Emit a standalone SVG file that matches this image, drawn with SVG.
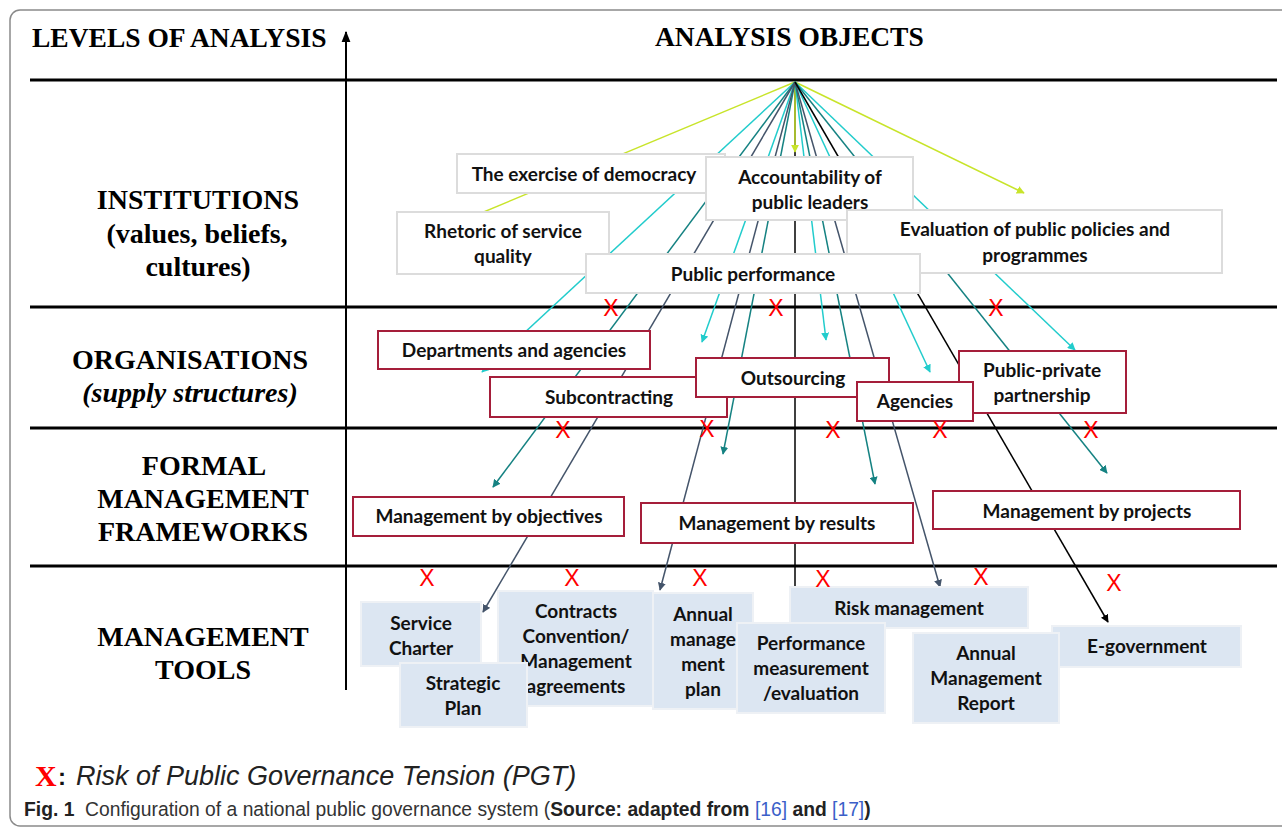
<svg xmlns="http://www.w3.org/2000/svg" width="1282" height="829" viewBox="0 0 1282 829">
<style>
.lvl{font-family:"Liberation Serif","Times New Roman",serif;font-weight:bold;font-size:28px;fill:#000;text-anchor:middle}
.hdr{font-family:"Liberation Serif","Times New Roman",serif;font-weight:bold;font-size:27.5px;fill:#000}
.hl{stroke:#000;stroke-width:3}
.nt{font-family:Lato,"Liberation Sans",sans-serif;font-weight:bold;font-size:19px;fill:#111;text-anchor:middle}
.inst{fill:#fff;stroke:#dcdcdc;stroke-width:2}
.org{fill:#fff;stroke:#a51e3a;stroke-width:2}
.tool{fill:#dce6f2;stroke:#eef1f5;stroke-width:2}
.x{font-family:"Liberation Sans",Arial,sans-serif;font-size:23px;fill:#ff0000;text-anchor:middle}
.cn{fill:none;stroke-width:1.5}
.y{stroke:#c8e42a}.c{stroke:#22cccc}.t{stroke:#158282}.s{stroke:#44546a}.k{stroke:#000}
</style>
<defs>
<marker id="ay" viewBox="0 0 10 10" refX="9" refY="5" markerWidth="8" markerHeight="8" markerUnits="userSpaceOnUse" orient="auto"><path d="M0,0 L10,5 L0,10 z" fill="#c8e42a"/></marker>
<marker id="ac" viewBox="0 0 10 10" refX="9" refY="5" markerWidth="8" markerHeight="8" markerUnits="userSpaceOnUse" orient="auto"><path d="M0,0 L10,5 L0,10 z" fill="#22cccc"/></marker>
<marker id="at" viewBox="0 0 10 10" refX="9" refY="5" markerWidth="8" markerHeight="8" markerUnits="userSpaceOnUse" orient="auto"><path d="M0,0 L10,5 L0,10 z" fill="#158282"/></marker>
<marker id="as" viewBox="0 0 10 10" refX="9" refY="5" markerWidth="8" markerHeight="8" markerUnits="userSpaceOnUse" orient="auto"><path d="M0,0 L10,5 L0,10 z" fill="#44546a"/></marker>
<marker id="ak" viewBox="0 0 10 10" refX="9" refY="5" markerWidth="8" markerHeight="8" markerUnits="userSpaceOnUse" orient="auto"><path d="M0,0 L10,5 L0,10 z" fill="#000"/></marker>
<marker id="axis" viewBox="0 0 10 10" refX="9" refY="5" markerWidth="11" markerHeight="11" markerUnits="userSpaceOnUse" orient="auto"><path d="M0,1 L10,5 L0,9 z" fill="#000"/></marker>
</defs>
<rect x="0" y="0" width="1282" height="829" fill="#fff"/>
<rect x="10" y="10" width="1300" height="816" rx="10" fill="none" stroke="#8a8a8a" stroke-width="1.5"/>

<g id="frame">
<text class="hdr" x="32" y="47">LEVELS OF ANALYSIS</text>
<text class="hdr" x="655" y="46">ANALYSIS OBJECTS</text>
<line class="hl" x1="30" y1="80" x2="1277" y2="80"/>
<line class="hl" x1="30" y1="307" x2="1277" y2="307"/>
<line class="hl" x1="30" y1="428" x2="1277" y2="428"/>
<line class="hl" x1="30" y1="566" x2="1277" y2="566"/>
<line x1="346" y1="690" x2="346" y2="32" stroke="#000" stroke-width="2" marker-end="url(#axis)"/>
<text class="lvl" x="198" y="209">INSTITUTIONS</text>
<text class="lvl" x="197" y="243">(values, beliefs,</text>
<text class="lvl" x="198" y="276">cultures)</text>
<text class="lvl" x="190" y="369">ORGANISATIONS</text>
<text class="lvl" x="190" y="402" font-style="italic">(supply structures)</text>
<text class="lvl" x="204" y="475">FORMAL</text>
<text class="lvl" x="203" y="508">MANAGEMENT</text>
<text class="lvl" x="203" y="541">FRAMEWORKS</text>
<text class="lvl" x="203" y="646">MANAGEMENT</text>
<text class="lvl" x="203" y="679">TOOLS</text>
</g>

<g id="connectors">
<line class="cn k" x1="795" y1="80" x2="795" y2="600"/>
<line class="cn y" x1="795" y1="82" x2="462" y2="221"/>
<line class="cn y" x1="795" y1="82" x2="795" y2="152" marker-end="url(#ay)"/>
<line class="cn y" x1="795" y1="82" x2="1024" y2="193" marker-end="url(#ay)"/>
<line class="cn c" x1="795" y1="82" x2="482" y2="372" marker-end="url(#ac)"/>
<line class="cn c" x1="795" y1="82" x2="702" y2="342" marker-end="url(#ac)"/>
<line class="cn c" x1="795" y1="82" x2="826" y2="340" marker-end="url(#ac)"/>
<line class="cn c" x1="795" y1="82" x2="930" y2="372" marker-end="url(#ac)"/>
<line class="cn c" x1="795" y1="82" x2="1075" y2="350" marker-end="url(#ac)"/>
<line class="cn t" x1="795" y1="82" x2="493" y2="487" marker-end="url(#at)"/>
<line class="cn t" x1="795" y1="82" x2="723" y2="454" marker-end="url(#at)"/>
<line class="cn t" x1="795" y1="82" x2="875" y2="484" marker-end="url(#at)"/>
<line class="cn t" x1="795" y1="82" x2="1107" y2="473" marker-end="url(#at)"/>
<line class="cn s" x1="795" y1="82" x2="483" y2="612" marker-end="url(#as)"/>
<line class="cn s" x1="795" y1="82" x2="660" y2="590" marker-end="url(#as)"/>
<line class="cn s" x1="795" y1="82" x2="940" y2="587" marker-end="url(#as)"/>
<line class="cn k" x1="795" y1="82" x2="1108" y2="622" marker-end="url(#ak)"/>
</g>

<g id="n-rhetoric"><rect class="inst" x="397" y="212" width="212" height="62"/><text class="nt" x="503" y="238">Rhetoric of service</text><text class="nt" x="503" y="263">quality</text></g>
<g id="n-democracy"><rect class="inst" x="457" y="154" width="268" height="39"/><text class="nt" x="584" y="181">The exercise of democracy</text></g>
<g id="n-accountability"><rect class="inst" x="706" y="157" width="207" height="63"/><text class="nt" x="810" y="184">Accountability of</text><text class="nt" x="810" y="209">public leaders</text></g>
<g id="n-evaluation"><rect class="inst" x="847" y="210" width="375" height="63"/><text class="nt" x="1035" y="236">Evaluation of public policies and</text><text class="nt" x="1035" y="262">programmes</text></g>
<g id="n-performance"><rect class="inst" x="586" y="254" width="334" height="39"/><text class="nt" x="753" y="281">Public performance</text></g>

<g id="n-departments"><rect class="org" x="378" y="331" width="272" height="38"/><text class="nt" x="514" y="357">Departments and agencies</text></g>
<g id="n-subcontracting"><rect class="org" x="490" y="377" width="237" height="40"/><text class="nt" x="609" y="404">Subcontracting</text></g>
<g id="n-outsourcing"><rect class="org" x="696" y="358" width="193" height="39"/><text class="nt" x="793" y="385">Outsourcing</text></g>
<g id="n-ppp"><rect class="org" x="959" y="351" width="167" height="62"/><text class="nt" x="1042" y="377">Public-private</text><text class="nt" x="1042" y="402">partnership</text></g>
<g id="n-agencies"><rect class="org" x="857" y="382" width="116" height="39"/><text class="nt" x="915" y="408">Agencies</text></g>

<g id="n-objectives"><rect class="org" x="353" y="497" width="271" height="39"/><text class="nt" x="489" y="523">Management by objectives</text></g>
<g id="n-results"><rect class="org" x="641" y="503" width="272" height="40"/><text class="nt" x="777" y="530">Management by results</text></g>
<g id="n-projects"><rect class="org" x="933" y="491" width="307" height="38"/><text class="nt" x="1087" y="518">Management by projects</text></g>

<g id="n-charter"><rect class="tool" x="361" y="602" width="120" height="64"/><text class="nt" x="421" y="630">Service</text><text class="nt" x="421" y="655">Charter</text></g>
<g id="n-contracts"><rect class="tool" x="498" y="591" width="155" height="115"/><text class="nt" x="576" y="618">Contracts</text><text class="nt" x="576" y="643">Convention/</text><text class="nt" x="576" y="668">Management</text><text class="nt" x="576" y="693">agreements</text></g>
<g id="n-strategic"><rect class="tool" x="400" y="663" width="127" height="64"/><text class="nt" x="463" y="690">Strategic</text><text class="nt" x="463" y="715">Plan</text></g>
<g id="n-annualplan"><rect class="tool" x="653" y="593" width="100" height="116"/><text class="nt" x="703" y="621">Annual</text><text class="nt" x="703" y="646">manage</text><text class="nt" x="703" y="671">ment</text><text class="nt" x="703" y="696">plan</text></g>
<g id="n-risk"><rect class="tool" x="790" y="587" width="238" height="41"/><text class="nt" x="909" y="615">Risk management</text></g>
<g id="n-perf"><rect class="tool" x="737" y="623" width="148" height="90"/><text class="nt" x="811" y="650">Performance</text><text class="nt" x="811" y="675">measurement</text><text class="nt" x="811" y="700">/evaluation</text></g>
<g id="n-egov"><rect class="tool" x="1052" y="626" width="189" height="41"/><text class="nt" x="1147" y="653">E-government</text></g>
<g id="n-amr"><rect class="tool" x="913" y="633" width="146" height="90"/><text class="nt" x="986" y="660">Annual</text><text class="nt" x="986" y="685">Management</text><text class="nt" x="986" y="710">Report</text></g>

<g id="risks">
<text class="x" x="611" y="316">X</text>
<text class="x" x="776" y="316">X</text>
<text class="x" x="996" y="316">X</text>
<text class="x" x="563" y="438">X</text>
<text class="x" x="707" y="437">X</text>
<text class="x" x="833" y="438">X</text>
<text class="x" x="940" y="438">X</text>
<text class="x" x="1091" y="438">X</text>
<text class="x" x="427" y="586">X</text>
<text class="x" x="572" y="586">X</text>
<text class="x" x="700" y="586">X</text>
<text class="x" x="823" y="587">X</text>
<text class="x" x="981" y="585">X</text>
<text class="x" x="1114" y="591">X</text>
</g>

<g id="legend">
<text x="35" y="786" font-family="Liberation Serif,serif" font-weight="bold" font-size="30" fill="#ff0000">X</text>
<text x="58" y="785" font-family="Liberation Sans,sans-serif" font-weight="bold" font-size="24" fill="#111">:</text>
<text x="76" y="785" font-family="Liberation Sans,sans-serif" font-style="italic" font-size="27" fill="#222">Risk of Public Governance Tension (PGT)</text>
<text x="24" y="816" font-family="Liberation Sans,sans-serif" font-size="19.3" fill="#333"><tspan font-weight="bold" fill="#222">Fig. 1</tspan>&#160;&#160;Configuration of a national public governance system (<tspan font-weight="bold" fill="#222">Source: adapted from</tspan> <tspan fill="#3b5fc9">[16]</tspan> <tspan font-weight="bold" fill="#222">and</tspan> <tspan fill="#3b5fc9">[17]</tspan><tspan font-weight="bold" fill="#222">)</tspan></text>
</g>
</svg>
